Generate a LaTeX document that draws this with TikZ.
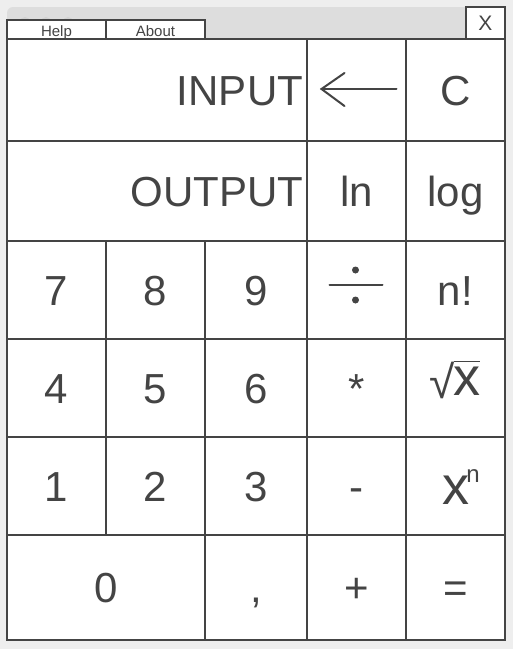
\documentclass[tikz,border=0pt]{standalone}
\usepackage{fontspec}
\setmainfont{Liberation Sans}
\definecolor{ink}{HTML}{444444}
\definecolor{backc}{HTML}{EEEEEE}
\definecolor{barc}{HTML}{DDDDDD}
\definecolor{dotc}{HTML}{D2D2D2}
\begin{document}
\begin{tikzpicture}[x=1pt, y=-1pt,
  key/.style={draw=ink, fill=white, line width=1.2pt, text=ink, inner sep=0pt, outer sep=0pt,
    text height=30pt, text depth=0pt, font=\fontsize{42}{42}\selectfont},
  tabkey/.style={key, text height=13pt, font=\fontsize{15}{15}\selectfont},
  glyph/.style={text=ink, inner sep=0pt},
  icon/.style={draw=ink, line width=2pt, line cap=round}]
\useasboundingbox (0,0) rectangle (513,649);
\fill [backc] (0,0) rectangle (513,649);
\fill [barc, rounded corners=6pt] (7,7) rectangle (505,45); % title bar
\foreach \cx in {25,46,68} \fill [dotc] (\cx,22) circle (5);
\node [tabkey, minimum width=99pt, minimum height=19pt] (help) at (56.5,29.5) {Help};
\node [tabkey, minimum width=99pt, minimum height=19pt] (about) at (155.5,29.5) {About};
\node [key, minimum width=39pt, minimum height=32pt, text height=15pt, font=\fontsize{21}{21}\selectfont] (close) at (485.5,23) {X};
% display rows
\node [key, minimum width=300pt, minimum height=102pt, text width=292pt, align=right] (input) at (157,90) {INPUT};
\node [key, minimum width=99pt, minimum height=102pt] (back) at (356.5,90) {};
\node [key, minimum width=99pt, minimum height=102pt] (clear) at (455.5,90) {C};
\node [key, minimum width=300pt, minimum height=100pt, text width=292pt, align=right] (output) at (157,191) {OUTPUT};
\node [key, minimum width=99pt, minimum height=100pt] (ln) at (356.5,191) {ln};
\node [key, minimum width=99pt, minimum height=100pt] (log) at (455.5,191) {log};
% keypad
\node [key, minimum width=99pt, minimum height=98pt] (seven) at (56.5,290) {7};
\node [key, minimum width=99pt, minimum height=98pt] (eight) at (155.5,290) {8};
\node [key, minimum width=102pt, minimum height=98pt] (nine) at (256,290) {9};
\node [key, minimum width=99pt, minimum height=98pt] (div) at (356.5,290) {};
\node [key, minimum width=99pt, minimum height=98pt] (fact) at (455.5,290) {n!};
\node [key, minimum width=99pt, minimum height=98pt] (four) at (56.5,388) {4};
\node [key, minimum width=99pt, minimum height=98pt] (five) at (155.5,388) {5};
\node [key, minimum width=102pt, minimum height=98pt] (six) at (256,388) {6};
\node [key, minimum width=99pt, minimum height=98pt] (mul) at (356.5,388) {*};
\node [key, minimum width=99pt, minimum height=98pt] (sqrt) at (455.5,388) {};
\node [key, minimum width=99pt, minimum height=98pt] (one) at (56.5,486) {1};
\node [key, minimum width=99pt, minimum height=98pt] (two) at (155.5,486) {2};
\node [key, minimum width=102pt, minimum height=98pt] (three) at (256,486) {3};
\node [key, minimum width=99pt, minimum height=98pt] (minus) at (356.5,486) {-};
\node [key, minimum width=99pt, minimum height=98pt] (pow) at (455.5,486) {};
\node [key, minimum width=198pt, minimum height=105pt] (zero) at (106,587.5) {0};
\node [key, minimum width=102pt, minimum height=105pt] (comma) at (256,587.5) {,};
\node [key, minimum width=99pt, minimum height=105pt] (plus) at (356.5,587.5) {+};
\node [key, minimum width=99pt, minimum height=105pt] (equals) at (455.5,587.5) {=};
% backspace arrow
\draw [icon] (back.center) ++(-35,-1) coordinate (tip) -- ++(75,0);
\draw [icon] (tip) ++(23,-16) -- (tip) -- ++(23,17);
% divide sign
\draw [icon] (div.center) ++(-27,-5) -- ++(53,0);
\fill [ink] (div.center) ++(-1,-20) circle (3.5);
\fill [ink] (div.center) ++(-1,10) circle (3.5);
% root and power
\node [glyph, font=\fontsize{46}{46}\selectfont] (rootsign) at (442,380) {√};
\node [glyph, font=\fontsize{54}{54}\selectfont] (rootx) at (466.5,381) {x};
\draw [icon, line width=1.8pt, line cap=butt] ([xshift=-0.5pt]rootsign.north east) -- (rootx.east |- rootsign.north east);
\node [glyph, font=\fontsize{54}{54}\selectfont] (powx) at (455.5,490) {x};
\node [glyph, font=\fontsize{24}{24}\selectfont] (pown) at (473,476) {n};
\end{tikzpicture}
\end{document}
